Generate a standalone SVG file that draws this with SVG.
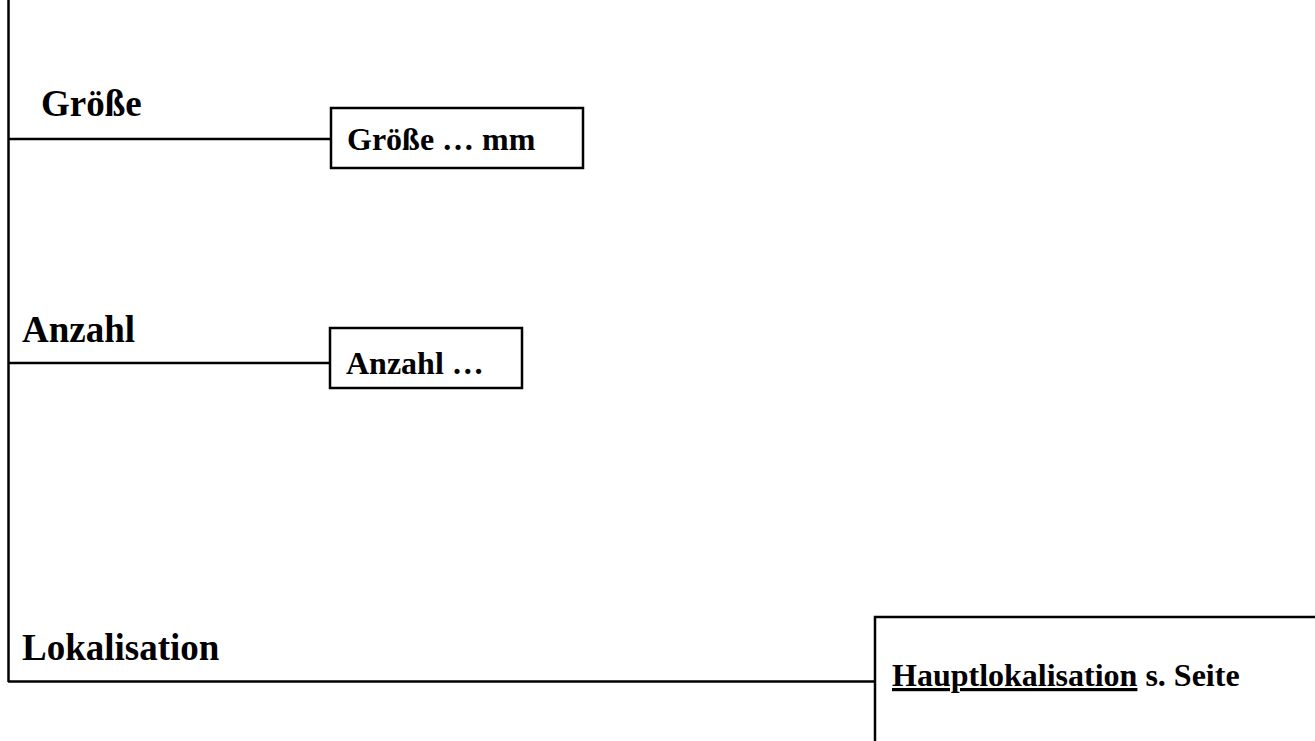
<svg xmlns="http://www.w3.org/2000/svg" width="1315" height="741" viewBox="0 0 1315 741">
<style>
.ln{stroke:#000;stroke-width:2.5;fill:none}
.box{stroke:#000;stroke-width:2.5;fill:#fff}
.lbl{font-family:"Liberation Serif","Times New Roman",serif;font-weight:bold;font-size:37px;fill:#000}
.txt{font-family:"Liberation Serif","Times New Roman",serif;font-weight:bold;font-size:32px;fill:#000}
</style>
<rect width="1315" height="741" fill="#fff"/>
<g id="connectors">
<line class="ln" x1="8.5" y1="0" x2="8.5" y2="682"/>
<line class="ln" x1="8" y1="139" x2="331" y2="139"/>
<line class="ln" x1="8" y1="363" x2="330" y2="363"/>
<line class="ln" x1="8" y1="681.5" x2="875" y2="681.5"/>
</g>
<g id="label-groesse"><text class="lbl" x="41" y="116">Größe</text></g>
<g id="label-anzahl"><text class="lbl" x="22" y="342">Anzahl</text></g>
<g id="label-lokalisation"><text class="lbl" x="22" y="660">Lokalisation</text></g>
<g id="node-groesse">
<rect class="box" x="331" y="108" width="252" height="60"/>
<text class="txt" x="347" y="150">Größe … mm</text>
</g>
<g id="node-anzahl">
<rect class="box" x="330" y="328" width="192" height="60"/>
<text class="txt" x="346" y="374">Anzahl …</text>
</g>
<g id="node-lokalisation">
<rect class="box" x="875" y="617" width="460" height="140"/>
<text class="txt" x="892" y="686"><tspan text-decoration="underline">Hauptlokalisation</tspan> s. Seite</text>
</g>
</svg>
